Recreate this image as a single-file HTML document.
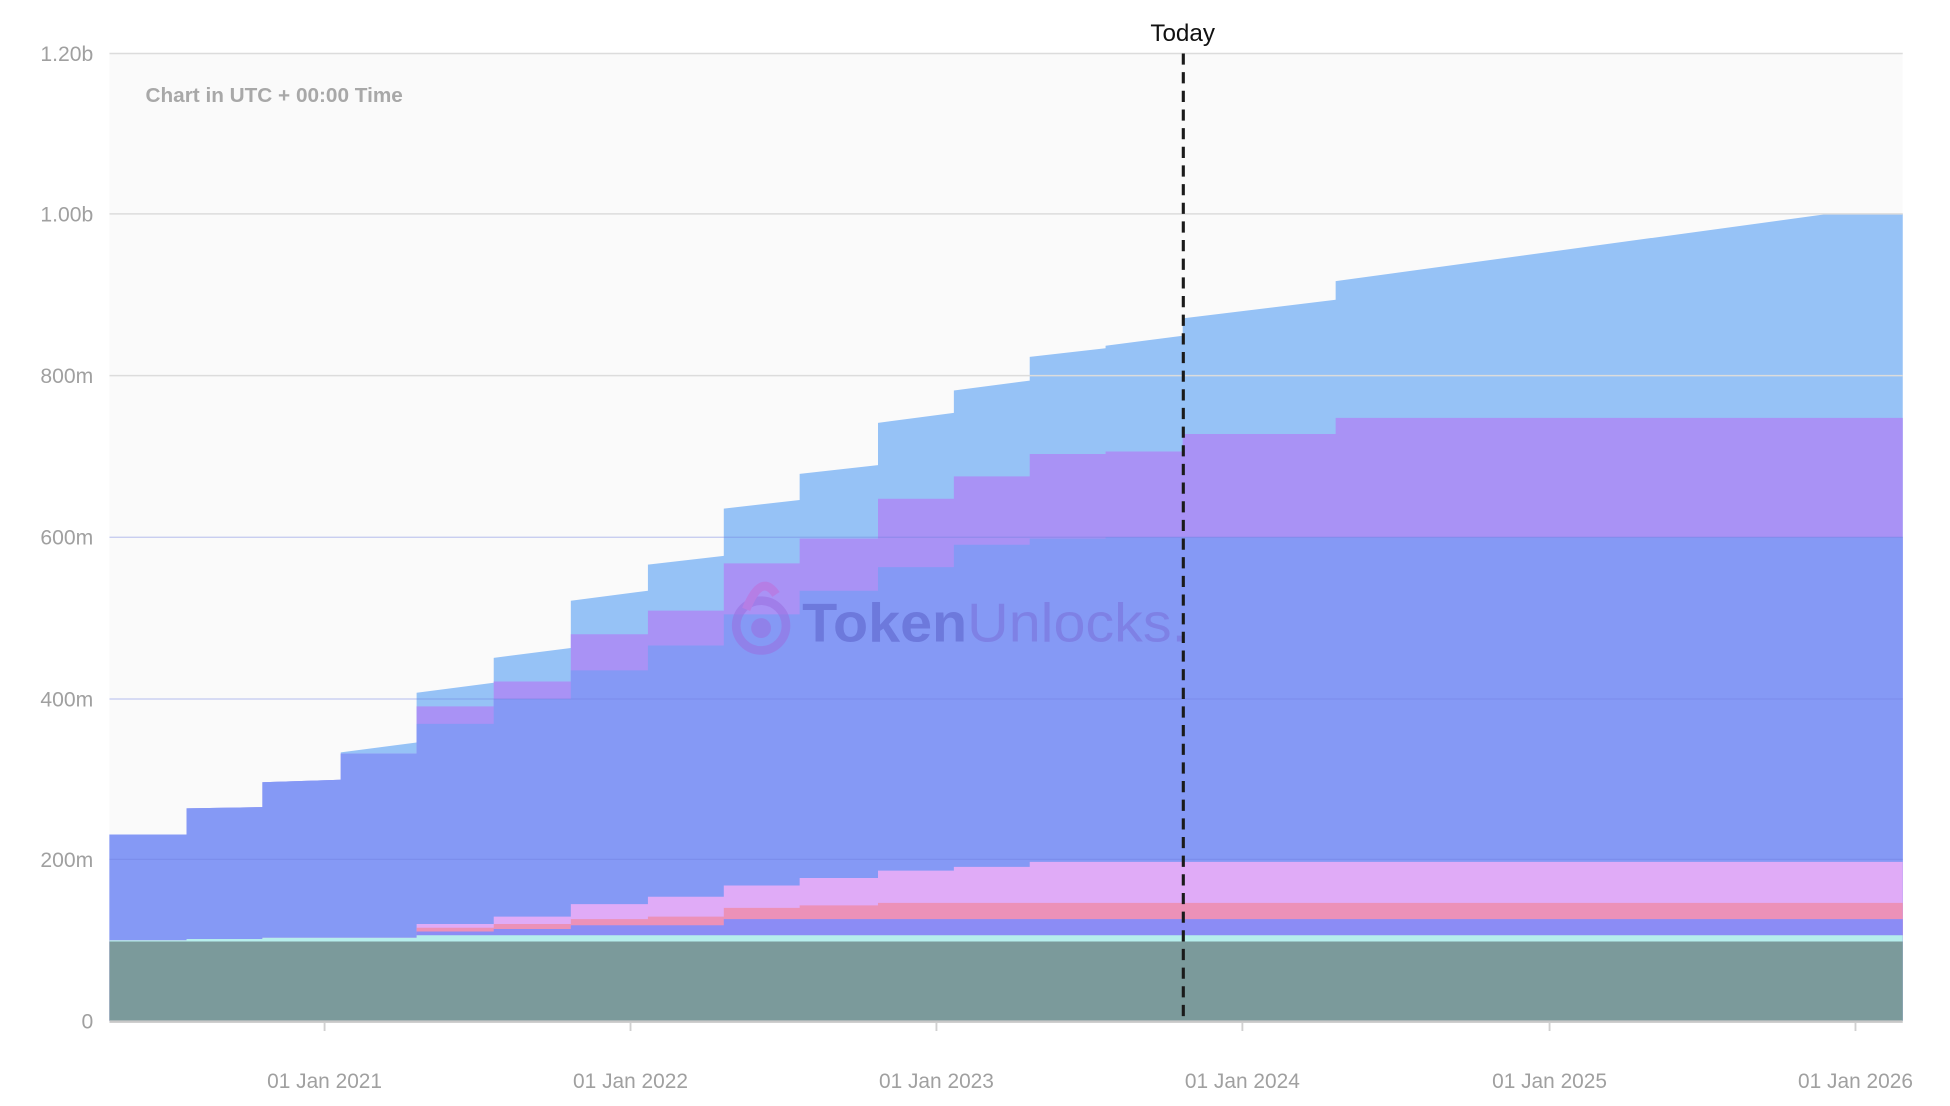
<!DOCTYPE html>
<html><head><meta charset="utf-8"><style>
html,body{margin:0;padding:0;background:#fff;}
svg{display:block;}
text{font-family:"Liberation Sans",sans-serif;}
</style></head><body>
<svg id="c" width="1950" height="1106" viewBox="0 0 1568 889.3" preserveAspectRatio="none" xmlns="http://www.w3.org/2000/svg">
<rect x="88" y="43" width="1442" height="778" fill="#fafafa"/>
<g id="layers"></g>
<g stroke="#dcdcdc" stroke-width="1.2">
<line x1="88" y1="43" x2="1530" y2="43"/>
<line x1="88" y1="172" x2="1530" y2="172"/>
<line x1="88" y1="302" x2="1530" y2="302"/>
</g>
<g stroke="#6f7fe0" stroke-width="1" opacity="0.4">
<line x1="88" y1="432" x2="1530" y2="432"/>
<line x1="88" y1="562" x2="1530" y2="562"/>
<line x1="88" y1="691" x2="1530" y2="691"/>
</g>
<line x1="88" y1="821.5" x2="1530" y2="821.5" stroke="#c8c8c8" stroke-width="2"/>
<g stroke="#d0d0d0" stroke-width="1.5">
<line x1="261" y1="822" x2="261" y2="829"/><line x1="507" y1="822" x2="507" y2="829"/>
<line x1="753" y1="822" x2="753" y2="829"/><line x1="999" y1="822" x2="999" y2="829"/>
<line x1="1246" y1="822" x2="1246" y2="829"/><line x1="1492" y1="822" x2="1492" y2="829"/>
</g>
<g font-size="17" fill="#a0a0a0" text-anchor="end">
<text x="75" y="49">1.20b</text><text x="75" y="178">1.00b</text><text x="75" y="308">800m</text>
<text x="75" y="438">600m</text><text x="75" y="568">400m</text><text x="75" y="697">200m</text><text x="75" y="827">0</text>
</g>
<g font-size="16.8" fill="#a0a0a0" text-anchor="middle">
<text x="261" y="875">01 Jan 2021</text><text x="507" y="875">01 Jan 2022</text><text x="753" y="875">01 Jan 2023</text>
<text x="999" y="875">01 Jan 2024</text><text x="1246" y="875">01 Jan 2025</text><text x="1492" y="875">01 Jan 2026</text>
</g>
<text x="117" y="82" font-size="16.7" fill="#a8a8a8" font-weight="bold">Chart in UTC + 00:00 Time</text>
<g opacity="0.55">
<circle cx="612" cy="503" r="20" fill="none" stroke="#9a6fe0" stroke-width="7"/>
<circle cx="612" cy="505" r="8" fill="#9a6fe0"/>
<path d="M600 490 Q612 460 624 478" fill="none" stroke="#c06fd8" stroke-width="7"/>
<text x="645" y="516" font-size="44" font-weight="bold" fill="#5a5fc8" textLength="310" lengthAdjust="spacingAndGlyphs">Token<tspan font-weight="normal" fill="#7a6fd8">Unlocks.</tspan></text>
</g>
<line x1="951.5" y1="43" x2="951.5" y2="821" stroke="#1a1a1a" stroke-width="2.5" stroke-dasharray="9,6"/>
<text x="951" y="33" font-size="19.5" fill="#111" text-anchor="middle">Today</text>
</svg>
<script>
var B=[88,150,211,274,335,397,459,521,582,643,706,767,828,889,951,1074,1470,1530];
function f(a){return a.map(function(v){return Array.isArray(v)?v:[v,v];});}
var cy=[756,755,754,754,752,752,752,752,752,752,752,752,752,752,752,752,752];
function low(vals){var r=[];for(var i=0;i<17;i++){r.push(i<4?cy[i]:(vals[i-4]!==undefined?vals[i-4]:vals[vals.length-1]));}return r;}
var L=[
["#96c2f6",f([671,[650,649],[629,627],[605,597],[557,549],[529,521],[483,475],[454,447],[409,402],[381,374],[340,332],[314,306],[287,280],[278,270],[256,241],[226,172],172])],
["#a992f5",f([671,[650,649],[629,627],606,568,548,510,491,453,433,401,383,365,363,349,336,336])],
["#8599f5",f([671,[650,649],[629,627],606,582,562,539,519,494,475,456,438,433,432,432,432,432])],
["#e0abf7",f(low([743,737,727,721,712,706,700,697,693]))],
["#ec91b8",f(low([746,743,739,737,730,728,726]))],
["#8b8cf5",f(low([749,747,744,744,739]))],
["#b6eeec",f(cy)],
["#7b9a9b",f([757,757,757,757,757,757,757,757,757,757,757,757,757,757,757,757,757])]
];
var g=document.getElementById("layers"),s="";
L.forEach(function(l){var p=[];for(var i=0;i<17;i++){p.push(B[i]+","+l[1][i][0]);p.push(B[i+1]+","+l[1][i][1]);}
p.push("1530,821");p.push("88,821");s+='<polygon fill="'+l[0]+'" points="'+p.join(" ")+'"/>';});
g.innerHTML=s;
</script>
</body></html>
